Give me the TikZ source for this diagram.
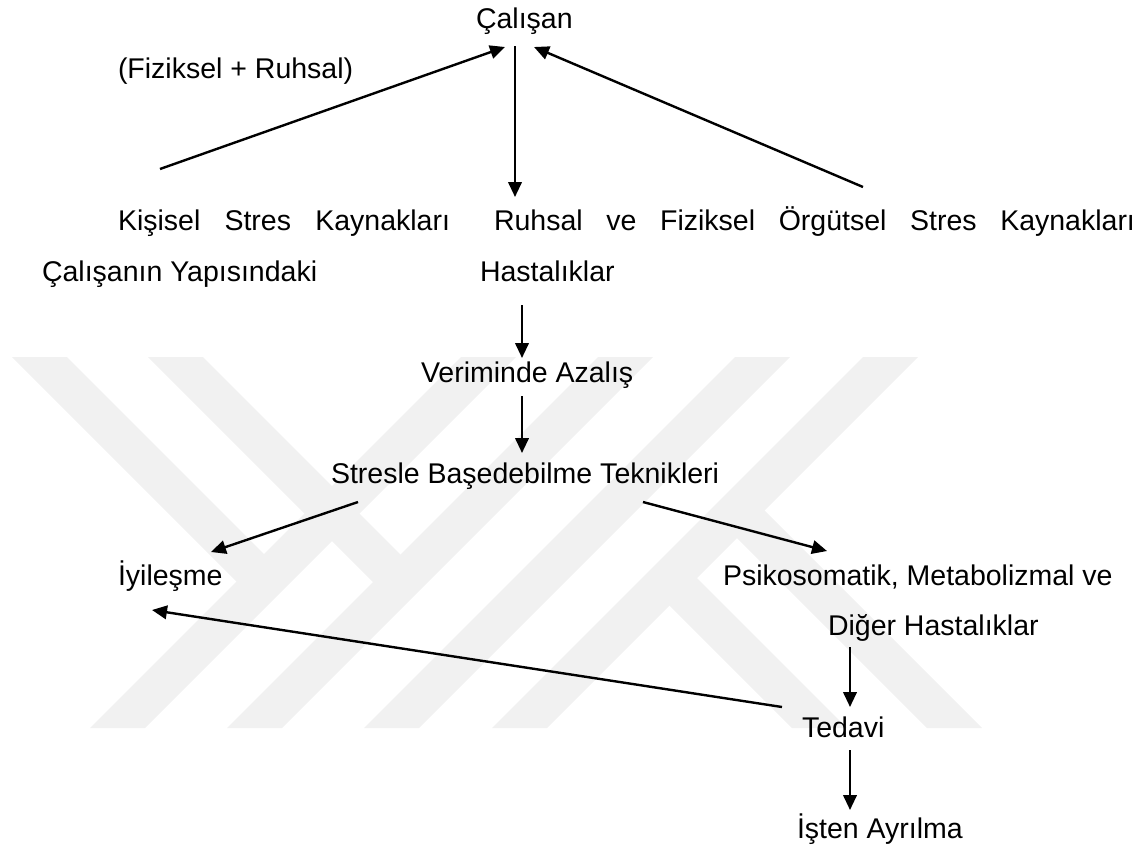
\documentclass[tikz,border=0pt]{standalone}
\usepackage{fontspec}
\setmainfont{Liberation Sans}
\usetikzlibrary{arrows.meta}
\definecolor{wmgray}{RGB}{241,241,241}
\begin{document}
\begin{tikzpicture}[x=1pt,y=-1pt,
  lbl/.style={inner sep=0pt,outer sep=0pt,anchor=base west,font=\fontsize{28.5}{34}\selectfont},
  arr/.style={line width=2.4pt,-{Triangle[length=15pt,width=13.5pt]}},
  wm/.style={fill=wmgray,draw=none}]
\useasboundingbox (0,0) rectangle (1147,847);
% watermark
\fill[wm] (90,728) -- (145,728) -- (516,357) -- (461,357) -- cycle;
\fill[wm] (227,728) -- (282,728) -- (653,357) -- (598,357) -- cycle;
\fill[wm] (364,728) -- (419,728) -- (790,357) -- (735,357) -- cycle;
\fill[wm] (492,728) -- (547,728) -- (918,357) -- (863,357) -- cycle;
\fill[wm] (12,357) -- (67,357) -- (275,565) -- (247.5,592.5) -- cycle;
\fill[wm] (148,357) -- (203,357) -- (413,567) -- (385.5,594.5) -- cycle;
\fill[wm] (655.5,591.5) -- (683,564) -- (847,728) -- (792,728) -- cycle;
\fill[wm] (723,524) -- (750.5,496.5) -- (982,728) -- (927,728) -- cycle;
% texts
\node[lbl] (calisan) at (476,28) {Çalışan};
\node[lbl] (fr) at (118,78.6) {(Fiziksel + Ruhsal)};
\node[lbl] (kisisel) at (118,230.4) {\makebox[332pt][s]{Kişisel Stres Kaynakları}};
\node[lbl] (ruhsal) at (494,230.4) {\makebox[641pt][s]{Ruhsal ve Fiziksel Örgütsel Stres Kaynakları}};
\node[lbl] (yapi) at (42,281) {Çalışanın Yapısındaki};
\node[lbl] (hast) at (480,281) {Hastalıklar};
\node[lbl] (verim) at (421,382) {Veriminde Azalış};
\node[lbl] (stres) at (331,483) {Stresle Başedebilme Teknikleri};
\node[lbl] (iyi) at (118,585) {İyileşme};
\node[lbl] (psiko) at (723,585) {Psikosomatik, Metabolizmal ve};
\node[lbl] (diger) at (828,635) {Diğer Hastalıklar};
\node[lbl] (tedavi) at (802,737) {Tedavi};
\node[lbl] (isten) at (797,838) {İşten Ayrılma};
% connector ends
\coordinate (k1) at (160,169);  \coordinate (c1) at (505,47);
\coordinate (c2) at (515,46);   \coordinate (r2) at (515,197);
\coordinate (o3) at (863,187);  \coordinate (c3) at (534,47);
\coordinate (h4) at (522,305);  \coordinate (v4) at (522,358);
\coordinate (v5) at (522,396);  \coordinate (s5) at (522,453);
\coordinate (s6) at (358,502);  \coordinate (i6) at (211,552);
\coordinate (s7) at (643,502);  \coordinate (p7) at (827,551);
\coordinate (d8) at (850,647);  \coordinate (t8) at (850,707);
\coordinate (t9) at (850,750);  \coordinate (a9) at (850,810);
\coordinate (t10) at (782,707); \coordinate (i10) at (152,610);
% connectors
\draw[arr] (k1) -- (c1);
\draw[arr] (c2) -- (r2);
\draw[arr] (o3) -- (c3);
\draw[arr] (h4) -- (v4);
\draw[arr] (v5) -- (s5);
\draw[arr] (s6) -- (i6);
\draw[arr] (s7) -- (p7);
\draw[arr] (d8) -- (t8);
\draw[arr] (t9) -- (a9);
\draw[arr] (t10) -- (i10);
\end{tikzpicture}
\end{document}
